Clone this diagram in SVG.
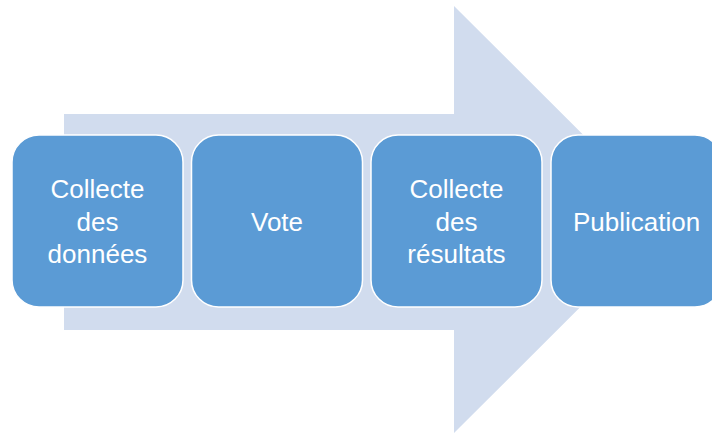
<svg xmlns="http://www.w3.org/2000/svg" width="712" height="435" viewBox="0 0 712 435">
<style>
.box{fill:#5B9BD5;stroke:#FFFFFF;stroke-width:1.5}
.lbl{fill:#FFFFFF;font-family:"Liberation Sans",Arial,sans-serif;font-size:26px;text-anchor:middle}
</style>
<rect width="712" height="435" fill="#FFFFFF"/>
<g id="arrow">
<polygon points="64,114 454,114 454,6 668,219.5 454,433 454,330 64,330" fill="#D1DCEE"/>
</g>
<g id="connectors"></g>
<g id="n1">
<rect class="box" x="12" y="135" width="171" height="172" rx="27" ry="27"/>
<text class="lbl" x="97.5" y="198">Collecte</text>
<text class="lbl" x="97.5" y="230.5">des</text>
<text class="lbl" x="97.5" y="263">données</text>
</g>
<g id="n2">
<rect class="box" x="191.5" y="135" width="171" height="172" rx="27" ry="27"/>
<text class="lbl" x="277" y="230.5">Vote</text>
</g>
<g id="n3">
<rect class="box" x="371" y="135" width="171" height="172" rx="27" ry="27"/>
<text class="lbl" x="456.5" y="198">Collecte</text>
<text class="lbl" x="456.5" y="230.5">des</text>
<text class="lbl" x="456.5" y="263">résultats</text>
</g>
<g id="n4">
<rect class="box" x="551" y="135" width="171" height="172" rx="27" ry="27"/>
<text class="lbl" x="636.5" y="230.5">Publication</text>
</g>
</svg>
